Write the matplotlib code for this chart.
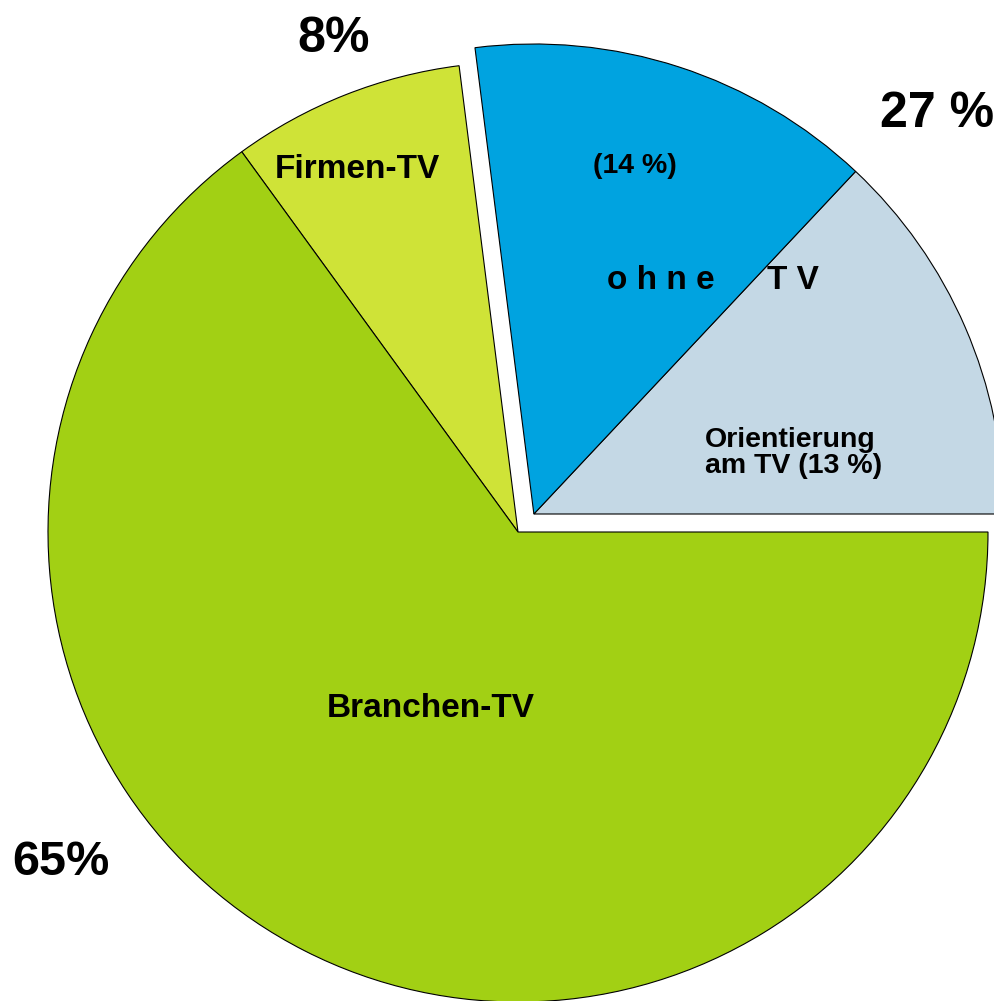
import numpy as np
import matplotlib
matplotlib.use("Agg")
import matplotlib.pyplot as plt

plt.rcParams['font.family'] = ['Liberation Sans', 'DejaVu Sans']

# slice data, counter-clockwise from 3 o'clock
labels = ["Orientierung am TV", "ohne TV", "Firmen-TV", "Branchen-TV"]
shares = [13, 14, 8, 65]
colors = ["#C4D8E5", "#00A3E0", "#CFE337", "#A2D014"]
exploded = [True, True, False, False]

W, H = 994, 1001
CENTER = (518, H - 532)
RADIUS = 470
EXPLODE_DIST = 24


def px(x, y):
    """ image pixel coords -> data coords (y up) """
    return x, H - y


fig = plt.figure(figsize=(W / 100, H / 100), dpi=100)
ax = fig.add_axes([0, 0, 1, 1])

wedges, _ = ax.pie(shares, colors=colors, radius=RADIUS, center=CENTER,
                   startangle=0, counterclock=True, frame=True,
                   wedgeprops=dict(edgecolor='black', linewidth=0.8))

# the "ohne TV" group is pulled out as one piece along its middle angle
group_total = sum(s for s, e in zip(shares, exploded) if e)
mid = np.deg2rad(group_total / sum(shares) * 360 / 2)
dx, dy = EXPLODE_DIST * np.cos(mid), EXPLODE_DIST * np.sin(mid)
for w, e in zip(wedges, exploded):
    if e:
        w.set_center((CENTER[0] + dx, CENTER[1] + dy))

ax.set_xlim(0, W)
ax.set_ylim(0, H)
ax.set_aspect('equal')
ax.axis('off')

big = dict(fontsize=36, fontweight='bold', va='baseline', ha='left')
ax.text(*px(297, 52), "8%", **big)
ax.text(*px(880, 127), "27 %", **big)
ax.text(*px(12, 875), "65%", fontsize=35, fontweight='bold', va='baseline', ha='left')

mid_txt = dict(fontsize=24, fontweight='bold', va='baseline', ha='left')
ax.text(*px(275, 178), "Firmen-TV", **mid_txt)
ax.text(*px(327, 717), "Branchen-TV", **mid_txt)
ax.text(*px(607, 289), "o h n e", **mid_txt)
ax.text(*px(767, 289), "T V", **mid_txt)

small = dict(fontsize=20.5, fontweight='bold', va='baseline', ha='left')
ax.text(*px(593, 173), "(14 %)", **small)
ax.text(*px(705, 447), "Orientierung", **small)
ax.text(*px(705, 473), "am TV (13 %)", **small)

fig.savefig("out.png", dpi=100, facecolor='white')
